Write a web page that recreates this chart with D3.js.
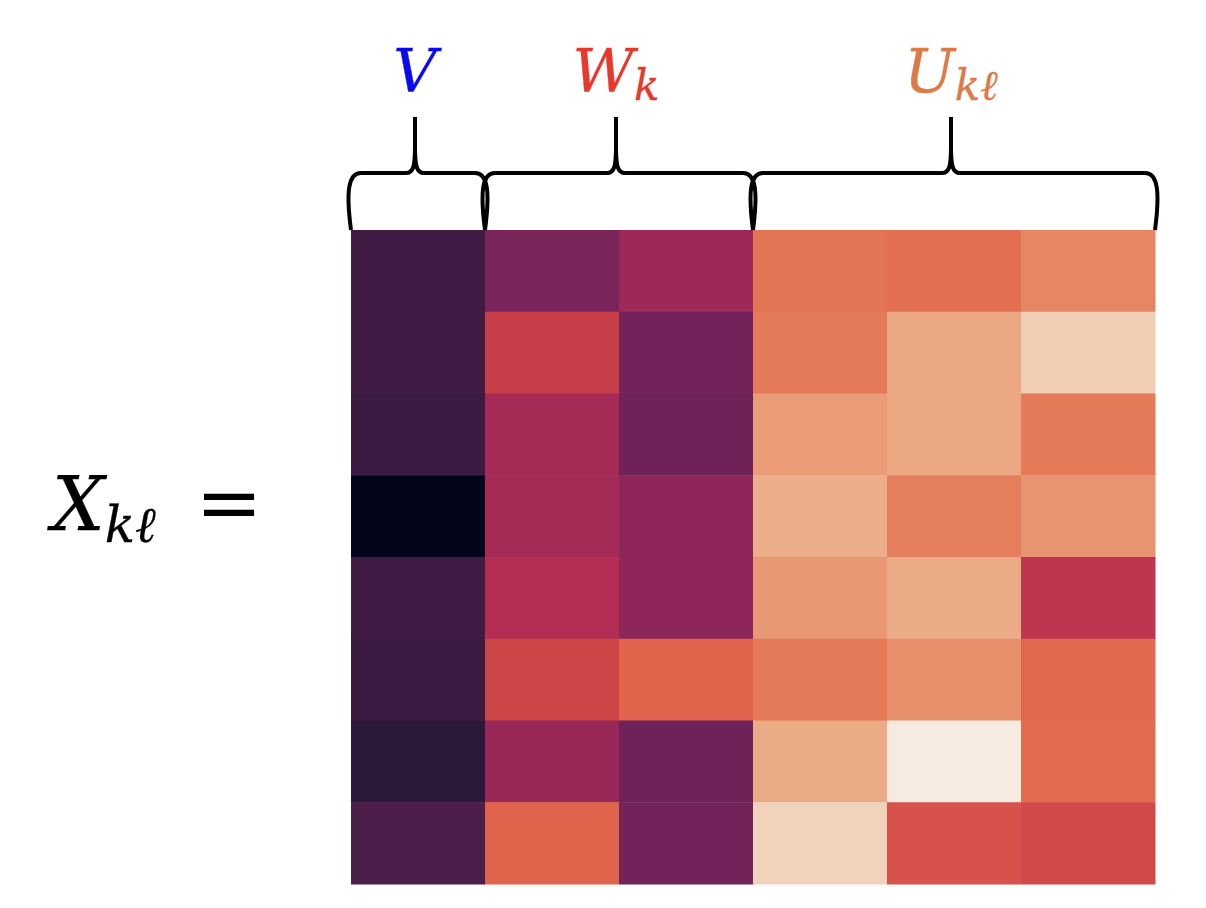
<!DOCTYPE html>
<html><head><meta charset="utf-8">
<script src="https://cdn.jsdelivr.net/npm/d3@7"></script>
<style>html,body{margin:0;padding:0;background:#fff;}</style>
</head><body>
<svg id="chart" width="1206" height="908"></svg>
<script>
// ---- data ----
const columns = ["V", "W1", "W2", "U1", "U2", "U3"];
const rows = ["r1", "r2", "r3", "r4", "r5", "r6", "r7", "r8"];
const valuesV  = [0.205, 0.205, 0.195, 0.00, 0.205, 0.195, 0.15, 0.235];
const valuesW1 = [0.33, 0.55, 0.43, 0.43, 0.48, 0.57, 0.39, 0.64];
const valuesW2 = [0.40, 0.32, 0.31, 0.37, 0.37, 0.64, 0.31, 0.32];
const valuesU1 = [0.70, 0.72, 0.80, 0.87, 0.79, 0.72, 0.86, 0.95];
const valuesU2 = [0.68, 0.84, 0.84, 0.73, 0.86, 0.77, 1.00, 0.60];
const valuesU3 = [0.75, 0.94, 0.72, 0.78, 0.51, 0.66, 0.67, 0.58];
const groups = [
  {name: "V",  sub: "",   from: "V",  to: "V",  color: "#0a0af0"},
  {name: "W",  sub: "k",  from: "W1", to: "W2", color: "#e8382c"},
  {name: "U",  sub: "kℓ", from: "U1", to: "U3", color: "#de7a48"}
];
// colormap stops (rocket-like)
const cmapStops = [0.00, 0.15, 0.22, 0.32, 0.40, 0.48, 0.56, 0.64, 0.72, 0.80, 0.88, 0.94, 1.00];
const cmapColors = ["#03051a","#2c1838","#451d47","#74235a","#9e2858","#b42d53","#cc4148","#e0644b","#e47a58","#ea9c78","#ecb08c","#f0ceb3","#f6ebe0"];

const colValues = [valuesV, valuesW1, valuesW2, valuesU1, valuesU2, valuesU3];
const cells = [];
columns.forEach((c, ci) => rows.forEach((r, ri) => cells.push({col: c, row: r, v: colValues[ci][ri]})));

const svg = d3.select("#chart");
const x = d3.scaleBand().domain(columns).range([351, 1155]).padding(0);
const y = d3.scaleBand().domain(rows).range([230, 884]).padding(0);
const color = d3.scaleLinear().domain(cmapStops).range(cmapColors).interpolate(d3.interpolateRgb);

svg.append("g").selectAll("rect").data(cells).join("rect")
  .attr("x", d => x(d.col)).attr("y", d => y(d.row))
  .attr("width", x.bandwidth() + 0.5).attr("height", y.bandwidth() + 0.5)
  .attr("fill", d => color(d.v));

// braces
const yb = 230, yh = 173, yt = 117;
function bracePath(x0, x1) {
  const cx = (x0 + x1) / 2 - 3;
  return `M${x0},${yb} C${x0-5},${yb-38} ${x0-3},${yh} ${x0+10},${yh}` +
         ` L${cx-9},${yh} C${cx-2},${yh} ${cx},${yh-6} ${cx},${yh-26} L${cx},${yt}` +
         ` M${cx},${yh-26} C${cx},${yh-6} ${cx+2},${yh} ${cx+9},${yh}` +
         ` L${x1-10},${yh} C${x1+3},${yh} ${x1+5},${yb-38} ${x1},${yb}`;
}
const gB = svg.append("g");
groups.forEach(g => {
  const x0 = x(g.from), x1 = x(g.to) + x.bandwidth();
  gB.append("path").attr("d", bracePath(x0, x1))
    .attr("fill", "none").attr("stroke", "#000").attr("stroke-width", 4)
    .attr("stroke-linejoin", "round");
  const cx = (x0 + x1) / 2 - 3;
  const t = gB.append("text").attr("x", cx).attr("y", 92)
    .attr("text-anchor", "middle")
    .attr("font-family", "DejaVu Serif").attr("font-style", "italic")
    .attr("font-size", 60).attr("fill", g.color)
    .attr("stroke", g.color).attr("stroke-width", 0.3);
  t.append("tspan").text(g.name);
  if (g.sub) t.append("tspan").attr("font-size", 42).attr("dy", 8).text(g.sub);
});

// left label
const lab = svg.append("text").attr("x", 52).attr("y", 530)
  .attr("font-family", "DejaVu Serif").attr("font-style", "italic")
  .attr("font-size", 74).attr("fill", "#000").attr("stroke", "#000").attr("stroke-width", 0.3);
lab.append("tspan").text("X");
lab.append("tspan").attr("font-size", 50).attr("dy", 12).text("kℓ");
svg.append("text").attr("x", 229).attr("y", 530).attr("text-anchor", "middle")
  .attr("font-family", "DejaVu Serif").attr("font-size", 80).attr("fill", "#000").text("=");
</script>
</body></html>
